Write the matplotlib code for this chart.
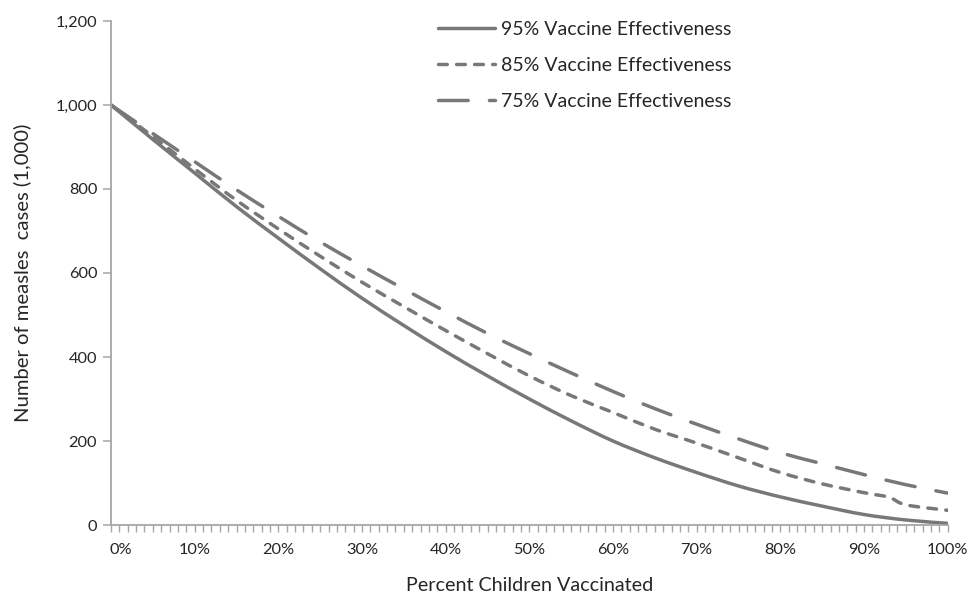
import matplotlib
matplotlib.use("Agg")
import matplotlib.pyplot as plt
from matplotlib.path import Path
from matplotlib.patches import PathPatch
from matplotlib.lines import Line2D
from matplotlib.ticker import FixedLocator, MultipleLocator, FuncFormatter
import matplotlib.transforms as mtransforms

plt.rcParams['font.family'] = ['Lato', 'DejaVu Sans']
plt.rcParams['lines.scale_dashes'] = False

# ---- data ----
pct = [0, 5, 10, 15, 20, 25, 30, 35, 40, 45, 50, 55, 60, 65, 70, 75, 80, 85, 90, 95, 100]
ve95 = [1000, 918, 838, 758, 683, 610, 540, 475, 413, 355, 300, 248, 200, 160, 125, 93, 67, 45, 25, 12, 4]
pct85 = [0, 5, 10, 15, 20, 25, 30, 35, 40, 45, 50, 55, 60, 65, 70, 75, 80, 85, 90, 93, 95, 100]
ve85 = [1000, 925, 848, 773, 705, 640, 578, 520, 463, 408, 355, 308, 268, 228, 195, 160, 125, 98, 77, 66, 48, 35]
ve75 = [1000, 932, 865, 798, 735, 674, 617, 562, 508, 456, 408, 362, 318, 277, 240, 205, 172, 146, 120, 96, 76]

labels = ["95% Vaccine Effectiveness", "85% Vaccine Effectiveness", "75% Vaccine Effectiveness"]
y_ticks = [0, 200, 400, 600, 800, 1000, 1200]
x_ticks = [0, 10, 20, 30, 40, 50, 60, 70, 80, 90, 100]

line_color = "#787878"
axis_color = "#a6a6a6"
text_color = "#262626"
lw = 2.5
dash85 = (6.3, 6.7)
dash75 = (21.4, 15.3)


def smooth_path(xs, ys):
    """Smoothed (Excel-like) Bezier path through the data points."""
    pts = list(zip(xs, ys))
    n = len(pts)
    verts = [pts[0]]
    codes = [Path.MOVETO]
    for i in range(n - 1):
        p0 = pts[i - 1] if i > 0 else pts[i]
        p1 = pts[i]
        p2 = pts[i + 1]
        p3 = pts[i + 2] if i + 2 < n else pts[i + 1]
        c1 = (p1[0] + (p2[0] - p0[0]) / 6.0, p1[1] + (p2[1] - p0[1]) / 6.0)
        c2 = (p2[0] - (p3[0] - p1[0]) / 6.0, p2[1] - (p3[1] - p1[1]) / 6.0)
        verts += [c1, c2, p2]
        codes += [Path.CURVE4, Path.CURVE4, Path.CURVE4]
    return Path(verts, codes)


fig = plt.figure(figsize=(9.68, 5.96), dpi=100)
ax = fig.add_axes([0.1147, 0.1191, 0.979 - 0.1147, 0.9648 - 0.1191])

series = [
    (pct, ve95, '-'),
    (pct85, ve85, (0, dash85)),
    (pct, ve75, (0, dash75)),
]
for xs, ys, ls in series:
    patch = PathPatch(smooth_path(xs, ys), facecolor='none', edgecolor=line_color,
                      lw=lw, linestyle=ls, capstyle='round', joinstyle='round')
    ax.add_patch(patch)

ax.set_xlim(0, 100)
ax.set_ylim(0, 1200)

for s in ['top', 'right']:
    ax.spines[s].set_visible(False)
for s in ['left', 'bottom']:
    ax.spines[s].set_color(axis_color)
    ax.spines[s].set_linewidth(1.3)

ax.yaxis.set_major_locator(FixedLocator(y_ticks))
ax.yaxis.set_major_formatter(FuncFormatter(lambda v, p: f"{int(v):,}"))
ax.xaxis.set_major_locator(FixedLocator(x_ticks))
ax.xaxis.set_major_formatter(FuncFormatter(lambda v, p: f"{int(v)}%"))
ax.xaxis.set_minor_locator(MultipleLocator(1))

ax.tick_params(axis='y', direction='out', length=6, width=1.1, color=axis_color,
               labelsize=11.8, labelcolor=text_color, pad=4)
ax.tick_params(axis='x', which='both', direction='out', length=5, width=1.0, color=axis_color,
               labelsize=11.8, labelcolor=text_color, pad=8)

# the first x label sits slightly right of the axis origin in the reference
fig.canvas.draw()
first = ax.get_xticklabels()[0]
first.set_transform(first.get_transform() + mtransforms.ScaledTranslation(10 / 100, 0, fig.dpi_scale_trans))

ax.set_ylabel("Number of measles  cases (1,000)", fontsize=14.6, color=text_color)
ax.yaxis.set_label_coords(-0.096, 0.5)
ax.set_xlabel("Percent Children Vaccinated", fontsize=14.2, color=text_color)
ax.xaxis.set_label_coords(0.5, -0.103)

handles = [
    Line2D([], [], color=line_color, lw=lw, solid_capstyle='round'),
    Line2D([], [], color=line_color, lw=lw, dash_capstyle='round', dashes=dash85),
    Line2D([], [], color=line_color, lw=lw, dash_capstyle='round', dashes=dash75),
]
leg = fig.legend(handles, labels, loc='upper left', bbox_to_anchor=(438 / 968, 1 - 21 / 596),
                 frameon=False, fontsize=14, handlelength=2.95, handletextpad=0.3,
                 labelspacing=0.98, borderpad=0, borderaxespad=0, labelcolor=text_color)

fig.savefig("out.png", dpi=100)
